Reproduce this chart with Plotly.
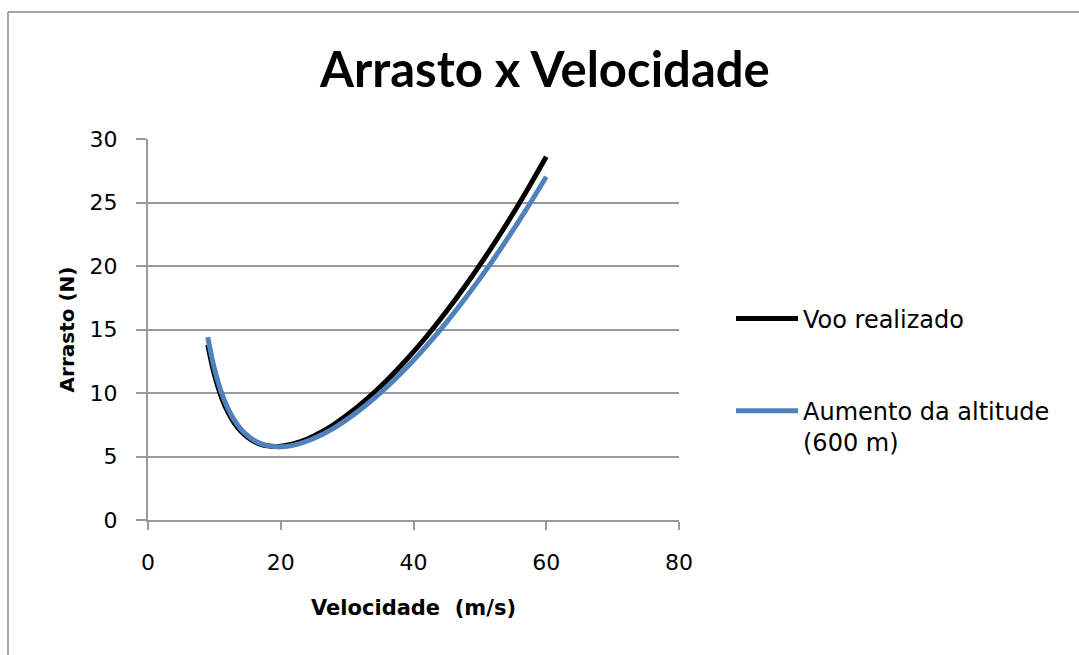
import plotly.graph_objects as go

# Velocidade (m/s)
velocidade = [9, 10, 11, 12, 13, 14, 15, 16, 17, 18, 19, 20, 22, 24, 26, 28, 30,
              33, 36, 39, 42, 45, 48, 51, 54, 57, 60]
# Arrasto (N) - Voo realizado
arrasto_voo = [13.80, 11.45, 9.76, 8.53, 7.64, 6.98, 6.51, 6.18, 5.96, 5.84, 5.79,
               5.81, 6.01, 6.38, 6.89, 7.52, 8.26, 9.54, 11.01, 12.66, 14.47,
               16.45, 18.58, 20.86, 23.29, 25.87, 28.60]
# Arrasto (N) - Aumento da altitude (600 m)
arrasto_alt = [14.40, 11.92, 10.14, 8.83, 7.87, 7.16, 6.64, 6.27, 6.01, 5.86, 5.78,
               5.76, 5.90, 6.22, 6.67, 7.24, 7.92, 9.11, 10.48, 12.02, 13.73,
               15.58, 17.59, 19.73, 22.03, 24.46, 27.03]

nome_voo = "Voo realizado"
nome_alt = "Aumento da altitude<br>(600 m)"
x_ticks = [0, 20, 40, 60, 80]
y_ticks = [0, 5, 10, 15, 20, 25, 30]

W, H = 1079, 655
L, R, T, B = 148, 1079 - 679, 139, 655 - 520
pw, ph = W - L - R, H - T - B

fig = go.Figure()
fig.add_trace(go.Scatter(x=velocidade, y=arrasto_voo, mode="lines", name=nome_voo,
                         legendgroup="a",
                         line=dict(color="#000000", width=5, shape="spline")))
fig.add_trace(go.Scatter(x=velocidade, y=arrasto_alt, mode="lines", name=nome_alt,
                         legendgroup="b",
                         line=dict(color="#4F81BD", width=5, shape="spline")))

axis_gray = "#9A9A9A"
tick_font = dict(family="DejaVu Sans", size=22, color="#000000")

fig.update_layout(
    width=W, height=H,
    margin=dict(l=L, r=R, t=T, b=B, autoexpand=False),
    paper_bgcolor="white", plot_bgcolor="white",
    title=dict(text="<b>Arrasto x Velocidade</b>", x=0.505, xanchor="center",
               y=1 - 70 / H, yanchor="middle",
               font=dict(family="Lato", size=49, color="#000000")),
    xaxis=dict(range=[0, 80], tickvals=x_ticks, showgrid=False, zeroline=False,
               showline=True, linecolor=axis_gray, linewidth=2,
               ticks="outside", ticklen=8, tickwidth=2, tickcolor=axis_gray,
               ticklabelstandoff=14, tickfont=tick_font,
               title=dict(text="<b>Velocidade  (m/s)</b>", standoff=26,
                          font=dict(family="DejaVu Sans", size=21, color="#000000"))),
    yaxis=dict(range=[0, 30], tickvals=y_ticks, showgrid=True, gridcolor=axis_gray,
               gridwidth=2, zeroline=False, showline=True, linecolor=axis_gray,
               linewidth=2, ticks="outside", ticklen=10, tickwidth=2,
               tickcolor=axis_gray, ticklabelstandoff=14, tickfont=tick_font,
               title=dict(text="<b>Arrasto (N)</b>", standoff=10,
                          font=dict(family="DejaVu Sans", size=20, color="#000000"))),
    legend=dict(x=(731 - L) / pw, xanchor="left", y=(H - B - 380.5) / ph,
                yanchor="middle",
                font=dict(family="DejaVu Sans", size=24, color="#000000"),
                tracegroupgap=58, itemwidth=62, valign="top",
                bgcolor="rgba(0,0,0,0)"),
    showlegend=True,
)

# outer chart-area border (top and left, as in reference crop)
border = "#A6A6A6"
fig.add_shape(type="line", xref="paper", yref="paper",
              x0=(8 - L) / pw, x1=(W - L) / pw, y0=(H - B - 12) / ph, y1=(H - B - 12) / ph,
              line=dict(color=border, width=2))
fig.add_shape(type="line", xref="paper", yref="paper",
              x0=(8 - L) / pw, x1=(8 - L) / pw, y0=(H - B - 12) / ph, y1=-B / ph,
              line=dict(color=border, width=2))

fig.write_html("out.html")
